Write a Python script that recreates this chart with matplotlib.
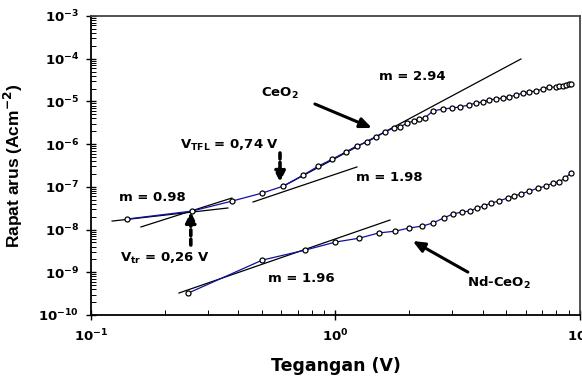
"""J-V log-log plot for CeO2 and Nd-CeO2 films."""

import matplotlib

matplotlib.use("Agg")
from matplotlib import pyplot as plt
from matplotlib.ticker import LogLocator, FuncFormatter, NullFormatter

plt.rcParams["mathtext.default"] = "bf"
plt.rcParams["font.family"] = ["DejaVu Sans"]

# CeO2 data (V, A/cm^2)
ceo2_v = [0.140, 0.259, 0.378, 0.502, 0.612, 0.739, 0.852, 0.972, 1.10, 1.22,
          1.34, 1.47, 1.59, 1.73, 1.83, 1.97, 2.09, 2.19, 2.32, 2.50, 2.75,
          2.99, 3.22, 3.51, 3.75, 4.00, 4.24, 4.53, 4.83, 5.12, 5.47, 5.84,
          6.18, 6.60, 7.05, 7.46, 7.97, 8.25, 8.50, 8.75, 9.00, 9.20]
ceo2_j = [1.76e-8, 2.71e-8, 4.65e-8, 7.16e-8, 1.04e-7, 1.89e-7, 3.07e-7,
          4.48e-7, 6.53e-7, 9.03e-7, 1.12e-6, 1.47e-6, 1.92e-6, 2.38e-6,
          2.51e-6, 3.12e-6, 3.48e-6, 3.87e-6, 4.09e-6, 5.96e-6, 6.64e-6,
          7.0e-6, 7.4e-6, 8.24e-6, 9.18e-6, 9.7e-6, 1.08e-5, 1.14e-5, 1.2e-5,
          1.27e-5, 1.41e-5, 1.57e-5, 1.66e-5, 1.75e-5, 1.95e-5, 2.17e-5,
          2.17e-5, 2.25e-5, 2.29e-5, 2.4e-5, 2.5e-5, 2.55e-5]

# Nd-CeO2 data
nd_v = [0.25, 0.502, 0.753, 1.0, 1.254, 1.5, 1.76, 1.99, 2.27, 2.5, 2.77,
        3.02, 3.28, 3.54, 3.78, 4.04, 4.32, 4.66, 5.07, 5.37, 5.73, 6.18,
        6.73, 7.26, 7.75, 8.2, 8.7, 9.19]
nd_j = [3.26e-10, 1.93e-9, 3.31e-9, 5.1e-9, 6.3e-9, 8.3e-9, 9.2e-9, 1.08e-8,
        1.21e-8, 1.42e-8, 1.86e-8, 2.31e-8, 2.57e-8, 2.71e-8, 3.16e-8,
        3.55e-8, 4.17e-8, 4.65e-8, 5.5e-8, 6.1e-8, 6.8e-8, 7.9e-8, 9.3e-8,
        1.04e-7, 1.23e-7, 1.3e-7, 1.6e-7, 2.1e-7]

# fitted slope lines: (V start, V end), (J start, J end)
fit_lines = {
    "m098": ([0.122, 0.363], [1.58e-8, 3.2e-8]),
    "ohm_tr": ([0.160, 0.377], [1.15e-8, 5.48e-8]),
    "m198": ([0.46, 1.224], [4.42e-8, 2.92e-7]),
    "m294": ([0.612, 5.74], [1.04e-7, 9.85e-5]),
    "m196": ([0.229, 1.671], [3.27e-10, 1.67e-8]),
}

fig = plt.figure(figsize=(5.82, 3.78), dpi=100)
ax = fig.add_axes([0.1564, 0.1667, 0.84, 0.791])

ax.plot(ceo2_v, ceo2_j, color="#1010a0", lw=0.9, marker="o", ms=3.6,
        mfc="white", mec="black", mew=0.9, zorder=3)
ax.plot(nd_v, nd_j, color="#1010a0", lw=0.9, marker="o", ms=3.6,
        mfc="white", mec="black", mew=0.9, zorder=3)

for xs, ys in fit_lines.values():
    ax.plot(xs, ys, color="black", lw=0.9, zorder=2)

ax.set_xscale("log")
ax.set_yscale("log")
ax.set_xlim(0.1, 10)
ax.set_ylim(1e-10, 1e-3)

ax.xaxis.set_major_locator(LogLocator(base=10, numticks=5))
ax.yaxis.set_major_locator(LogLocator(base=10, numticks=10))
ax.xaxis.set_minor_locator(LogLocator(base=10, subs=range(2, 10), numticks=10))
ax.yaxis.set_minor_locator(LogLocator(base=10, subs=range(2, 10), numticks=12))
ax.xaxis.set_minor_formatter(NullFormatter())
ax.yaxis.set_minor_formatter(NullFormatter())
fmt = FuncFormatter(lambda v, pos: r"$10^{%d}$" % round(__import__("math").log10(v)))
ax.xaxis.set_major_formatter(fmt)
ax.yaxis.set_major_formatter(fmt)

ax.tick_params(which="major", direction="inout", length=7, width=1.0,
               labelsize=9.5, top=False, right=False)
ax.tick_params(which="minor", direction="in", length=3.5, width=0.7,
               top=False, right=False)
ax.tick_params(axis="y", which="major", pad=5)
ax.tick_params(axis="x", which="major", pad=6)

for s in ["left", "bottom"]:
    ax.spines[s].set_linewidth(1.3)
for s in ["top", "right"]:
    ax.spines[s].set_linewidth(1.3)
    ax.spines[s].set_color("#444444")

ax.set_xlabel("Tegangan (V)", fontsize=12.5, fontweight="bold", labelpad=9)
ax.set_ylabel(r"Rapat arus (Acm$^{-2}$)", fontsize=12.5, fontweight="bold",
              family="Liberation Sans", labelpad=10)

txt = dict(fontsize=9.5, fontweight="bold", ha="center", va="center")
ax.text(0.179, 5.78e-8, "m = 0.98", **txt)
ax.text(0.370, 9.55e-7, r"V$_{TFL}$ = 0,74 V", **txt)
ax.text(0.593, 1.57e-5, r"CeO$_2$", **txt)
ax.text(2.07, 3.73e-5, "m = 2.94", **txt)
ax.text(1.655, 1.7e-7, "m = 1.98", **txt)
ax.text(0.2007, 2.16e-9, r"V$_{tr}$ = 0,26 V", **txt)
ax.text(0.722, 7.3e-10, "m = 1.96", **txt)
ax.text(4.66, 5.6e-10, r"Nd-CeO$_2$", **txt)

solid = dict(arrowstyle="-|>,head_length=0.7,head_width=0.3", lw=2.2,
             color="black", shrinkA=0, shrinkB=0)
dashed = dict(arrowstyle="-|>,head_length=0.6,head_width=0.3", lw=2.6,
              color="black", shrinkA=0, shrinkB=0, linestyle=(0, (1.6, 1.0)))
ax.annotate("", xy=(1.41, 2.39e-6), xytext=(0.824, 8.7e-6), arrowprops=solid)
ax.annotate("", xy=(2.07, 5.4e-9), xytext=(3.48, 1.01e-9), arrowprops=solid)
ax.annotate("", xy=(0.593, 1.3e-7), xytext=(0.593, 6.2e-7), arrowprops=dashed)
ax.annotate("", xy=(0.256, 2.58e-8), xytext=(0.256, 4.35e-9), arrowprops=dashed)

fig.savefig("out.png", dpi=100)
plt.close(fig)
